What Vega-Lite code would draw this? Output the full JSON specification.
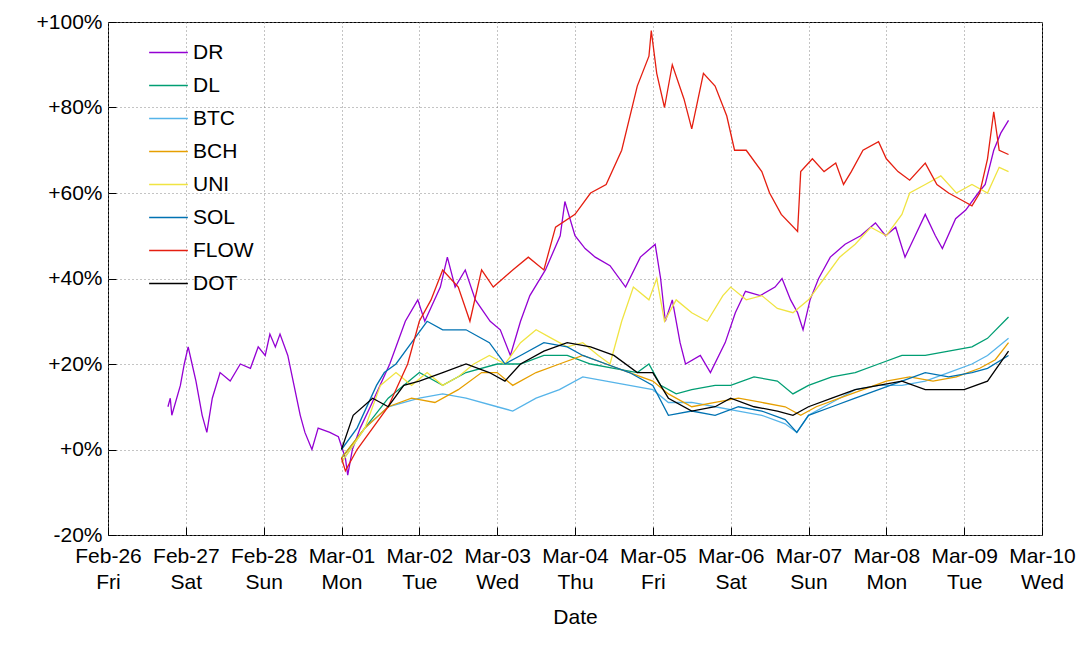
{
  "$schema": "https://vega.github.io/schema/vega-lite/v6.json",
  "width": 934,
  "height": 513,
  "autosize": "none",
  "padding": {"left": 108, "top": 22, "right": 46, "bottom": 113},
  "background": "white",
  "config": {"font": "Liberation Sans", "view": {"stroke": "black", "strokeWidth": 1}},
  "data": {"values": [
    {"s":"DR","d":0.77,"v":10},{"s":"DR","d":0.8,"v":12},{"s":"DR","d":0.82,"v":8},{"s":"DR","d":0.93,"v":15},{"s":"DR","d":0.98,"v":20},{"s":"DR","d":1.03,"v":24},{"s":"DR","d":1.08,"v":20},{"s":"DR","d":1.13,"v":16},{"s":"DR","d":1.21,"v":8},{"s":"DR","d":1.27,"v":4},{"s":"DR","d":1.34,"v":12},{"s":"DR","d":1.44,"v":18},{"s":"DR","d":1.57,"v":16},{"s":"DR","d":1.7,"v":20},{"s":"DR","d":1.83,"v":19},{"s":"DR","d":1.93,"v":24},{"s":"DR","d":2.02,"v":22},{"s":"DR","d":2.08,"v":27},{"s":"DR","d":2.15,"v":24},{"s":"DR","d":2.21,"v":27},{"s":"DR","d":2.31,"v":22},{"s":"DR","d":2.39,"v":15},{"s":"DR","d":2.47,"v":8},{"s":"DR","d":2.53,"v":4},{"s":"DR","d":2.62,"v":0},{"s":"DR","d":2.7,"v":5},{"s":"DR","d":2.85,"v":4},{"s":"DR","d":2.96,"v":3},{"s":"DR","d":3.05,"v":-2},{"s":"DR","d":3.08,"v":-6},{"s":"DR","d":3.14,"v":0},{"s":"DR","d":3.24,"v":5},{"s":"DR","d":3.37,"v":10},{"s":"DR","d":3.62,"v":20},{"s":"DR","d":3.82,"v":30},{"s":"DR","d":3.98,"v":35},{"s":"DR","d":4.07,"v":30},{"s":"DR","d":4.27,"v":38},{"s":"DR","d":4.36,"v":45},{"s":"DR","d":4.46,"v":38},{"s":"DR","d":4.59,"v":42},{"s":"DR","d":4.72,"v":35},{"s":"DR","d":4.91,"v":30},{"s":"DR","d":5.04,"v":28},{"s":"DR","d":5.17,"v":22},{"s":"DR","d":5.3,"v":30},{"s":"DR","d":5.42,"v":36},{"s":"DR","d":5.62,"v":42},{"s":"DR","d":5.81,"v":50},{"s":"DR","d":5.87,"v":58},{"s":"DR","d":6.0,"v":50},{"s":"DR","d":6.13,"v":47},{"s":"DR","d":6.26,"v":45},{"s":"DR","d":6.45,"v":43},{"s":"DR","d":6.65,"v":38},{"s":"DR","d":6.84,"v":45},{"s":"DR","d":7.03,"v":48},{"s":"DR","d":7.1,"v":40},{"s":"DR","d":7.16,"v":30},{"s":"DR","d":7.25,"v":35},{"s":"DR","d":7.35,"v":25},{"s":"DR","d":7.42,"v":20},{"s":"DR","d":7.61,"v":22},{"s":"DR","d":7.74,"v":18},{"s":"DR","d":7.93,"v":25},{"s":"DR","d":8.06,"v":32},{"s":"DR","d":8.19,"v":37},{"s":"DR","d":8.38,"v":36},{"s":"DR","d":8.57,"v":38},{"s":"DR","d":8.66,"v":40},{"s":"DR","d":8.77,"v":35},{"s":"DR","d":8.86,"v":32},{"s":"DR","d":8.93,"v":28},{"s":"DR","d":9.02,"v":35},{"s":"DR","d":9.13,"v":40},{"s":"DR","d":9.28,"v":45},{"s":"DR","d":9.47,"v":48},{"s":"DR","d":9.67,"v":50},{"s":"DR","d":9.86,"v":53},{"s":"DR","d":9.99,"v":50},{"s":"DR","d":10.12,"v":52},{"s":"DR","d":10.24,"v":45},{"s":"DR","d":10.37,"v":50},{"s":"DR","d":10.5,"v":55},{"s":"DR","d":10.63,"v":50},{"s":"DR","d":10.72,"v":47},{"s":"DR","d":10.89,"v":54},{"s":"DR","d":11.02,"v":56},{"s":"DR","d":11.18,"v":60},{"s":"DR","d":11.27,"v":62},{"s":"DR","d":11.38,"v":70},{"s":"DR","d":11.47,"v":74},{"s":"DR","d":11.57,"v":77},

    {"s":"DL","d":3.0,"v":-2},{"s":"DL","d":3.3,"v":5},{"s":"DL","d":3.6,"v":12},{"s":"DL","d":4.0,"v":18},{"s":"DL","d":4.3,"v":15},{"s":"DL","d":4.6,"v":18},{"s":"DL","d":5.0,"v":20},{"s":"DL","d":5.3,"v":20},{"s":"DL","d":5.6,"v":22},{"s":"DL","d":5.9,"v":22},{"s":"DL","d":6.2,"v":20},{"s":"DL","d":6.5,"v":19},{"s":"DL","d":6.8,"v":18},{"s":"DL","d":6.95,"v":20},{"s":"DL","d":7.1,"v":15},{"s":"DL","d":7.3,"v":13},{"s":"DL","d":7.5,"v":14},{"s":"DL","d":7.8,"v":15},{"s":"DL","d":8.0,"v":15},{"s":"DL","d":8.3,"v":17},{"s":"DL","d":8.6,"v":16},{"s":"DL","d":8.8,"v":13},{"s":"DL","d":9.0,"v":15},{"s":"DL","d":9.3,"v":17},{"s":"DL","d":9.6,"v":18},{"s":"DL","d":9.9,"v":20},{"s":"DL","d":10.2,"v":22},{"s":"DL","d":10.5,"v":22},{"s":"DL","d":10.8,"v":23},{"s":"DL","d":11.1,"v":24},{"s":"DL","d":11.3,"v":26},{"s":"DL","d":11.57,"v":31},

    {"s":"BTC","d":3.0,"v":-3},{"s":"BTC","d":3.3,"v":5},{"s":"BTC","d":3.6,"v":10},{"s":"BTC","d":4.0,"v":12},{"s":"BTC","d":4.3,"v":13},{"s":"BTC","d":4.6,"v":12},{"s":"BTC","d":5.0,"v":10},{"s":"BTC","d":5.2,"v":9},{"s":"BTC","d":5.5,"v":12},{"s":"BTC","d":5.8,"v":14},{"s":"BTC","d":6.1,"v":17},{"s":"BTC","d":6.4,"v":16},{"s":"BTC","d":6.7,"v":15},{"s":"BTC","d":7.0,"v":14},{"s":"BTC","d":7.2,"v":11},{"s":"BTC","d":7.5,"v":11},{"s":"BTC","d":7.8,"v":10},{"s":"BTC","d":8.1,"v":9},{"s":"BTC","d":8.4,"v":8},{"s":"BTC","d":8.7,"v":6},{"s":"BTC","d":8.85,"v":4},{"s":"BTC","d":9.0,"v":8},{"s":"BTC","d":9.3,"v":11},{"s":"BTC","d":9.6,"v":14},{"s":"BTC","d":9.9,"v":15},{"s":"BTC","d":10.2,"v":15},{"s":"BTC","d":10.5,"v":16},{"s":"BTC","d":10.8,"v":18},{"s":"BTC","d":11.1,"v":20},{"s":"BTC","d":11.3,"v":22},{"s":"BTC","d":11.57,"v":26},

    {"s":"BCH","d":3.0,"v":-2},{"s":"BCH","d":3.3,"v":5},{"s":"BCH","d":3.6,"v":10},{"s":"BCH","d":3.9,"v":12},{"s":"BCH","d":4.2,"v":11},{"s":"BCH","d":4.5,"v":14},{"s":"BCH","d":4.8,"v":18},{"s":"BCH","d":5.0,"v":18},{"s":"BCH","d":5.2,"v":15},{"s":"BCH","d":5.5,"v":18},{"s":"BCH","d":5.8,"v":20},{"s":"BCH","d":6.1,"v":22},{"s":"BCH","d":6.4,"v":20},{"s":"BCH","d":6.7,"v":18},{"s":"BCH","d":7.0,"v":16},{"s":"BCH","d":7.2,"v":13},{"s":"BCH","d":7.5,"v":10},{"s":"BCH","d":7.8,"v":11},{"s":"BCH","d":8.1,"v":12},{"s":"BCH","d":8.4,"v":11},{"s":"BCH","d":8.7,"v":10},{"s":"BCH","d":8.9,"v":8},{"s":"BCH","d":9.1,"v":10},{"s":"BCH","d":9.4,"v":12},{"s":"BCH","d":9.7,"v":14},{"s":"BCH","d":10.0,"v":16},{"s":"BCH","d":10.3,"v":17},{"s":"BCH","d":10.6,"v":16},{"s":"BCH","d":10.9,"v":17},{"s":"BCH","d":11.2,"v":19},{"s":"BCH","d":11.4,"v":21},{"s":"BCH","d":11.57,"v":25},

    {"s":"UNI","d":3.0,"v":-3},{"s":"UNI","d":3.3,"v":5},{"s":"UNI","d":3.5,"v":15},{"s":"UNI","d":3.7,"v":18},{"s":"UNI","d":3.9,"v":15},{"s":"UNI","d":4.1,"v":18},{"s":"UNI","d":4.3,"v":15},{"s":"UNI","d":4.5,"v":17},{"s":"UNI","d":4.7,"v":20},{"s":"UNI","d":4.9,"v":22},{"s":"UNI","d":5.1,"v":20},{"s":"UNI","d":5.3,"v":25},{"s":"UNI","d":5.5,"v":28},{"s":"UNI","d":5.7,"v":26},{"s":"UNI","d":5.9,"v":24},{"s":"UNI","d":6.1,"v":25},{"s":"UNI","d":6.3,"v":22},{"s":"UNI","d":6.45,"v":20},{"s":"UNI","d":6.6,"v":30},{"s":"UNI","d":6.75,"v":38},{"s":"UNI","d":6.95,"v":35},{"s":"UNI","d":7.05,"v":40},{"s":"UNI","d":7.15,"v":30},{"s":"UNI","d":7.3,"v":35},{"s":"UNI","d":7.5,"v":32},{"s":"UNI","d":7.7,"v":30},{"s":"UNI","d":7.9,"v":36},{"s":"UNI","d":8.0,"v":38},{"s":"UNI","d":8.2,"v":35},{"s":"UNI","d":8.4,"v":36},{"s":"UNI","d":8.6,"v":33},{"s":"UNI","d":8.8,"v":32},{"s":"UNI","d":9.0,"v":35},{"s":"UNI","d":9.2,"v":40},{"s":"UNI","d":9.4,"v":45},{"s":"UNI","d":9.6,"v":48},{"s":"UNI","d":9.8,"v":52},{"s":"UNI","d":10.0,"v":50},{"s":"UNI","d":10.2,"v":55},{"s":"UNI","d":10.3,"v":60},{"s":"UNI","d":10.5,"v":62},{"s":"UNI","d":10.7,"v":64},{"s":"UNI","d":10.9,"v":60},{"s":"UNI","d":11.1,"v":62},{"s":"UNI","d":11.3,"v":60},{"s":"UNI","d":11.45,"v":66},{"s":"UNI","d":11.57,"v":65},

    {"s":"SOL","d":3.0,"v":0},{"s":"SOL","d":3.2,"v":5},{"s":"SOL","d":3.45,"v":15},{"s":"SOL","d":3.55,"v":18},{"s":"SOL","d":3.7,"v":20},{"s":"SOL","d":3.9,"v":25},{"s":"SOL","d":4.1,"v":30},{"s":"SOL","d":4.3,"v":28},{"s":"SOL","d":4.6,"v":28},{"s":"SOL","d":4.9,"v":25},{"s":"SOL","d":5.1,"v":20},{"s":"SOL","d":5.3,"v":22},{"s":"SOL","d":5.6,"v":25},{"s":"SOL","d":5.9,"v":24},{"s":"SOL","d":6.1,"v":22},{"s":"SOL","d":6.4,"v":20},{"s":"SOL","d":6.7,"v":18},{"s":"SOL","d":7.0,"v":15},{"s":"SOL","d":7.2,"v":8},{"s":"SOL","d":7.5,"v":9},{"s":"SOL","d":7.8,"v":8},{"s":"SOL","d":8.1,"v":10},{"s":"SOL","d":8.4,"v":9},{"s":"SOL","d":8.7,"v":7},{"s":"SOL","d":8.85,"v":4},{"s":"SOL","d":9.0,"v":8},{"s":"SOL","d":9.3,"v":10},{"s":"SOL","d":9.6,"v":12},{"s":"SOL","d":9.9,"v":14},{"s":"SOL","d":10.2,"v":16},{"s":"SOL","d":10.5,"v":18},{"s":"SOL","d":10.8,"v":17},{"s":"SOL","d":11.1,"v":18},{"s":"SOL","d":11.3,"v":19},{"s":"SOL","d":11.57,"v":22},

    {"s":"FLOW","d":3.0,"v":-2},{"s":"FLOW","d":3.05,"v":-5},{"s":"FLOW","d":3.2,"v":0},{"s":"FLOW","d":3.4,"v":5},{"s":"FLOW","d":3.6,"v":10},{"s":"FLOW","d":3.85,"v":20},{"s":"FLOW","d":4.0,"v":30},{"s":"FLOW","d":4.15,"v":35},{"s":"FLOW","d":4.3,"v":42},{"s":"FLOW","d":4.5,"v":38},{"s":"FLOW","d":4.65,"v":30},{"s":"FLOW","d":4.8,"v":42},{"s":"FLOW","d":4.95,"v":38},{"s":"FLOW","d":5.2,"v":42},{"s":"FLOW","d":5.4,"v":45},{"s":"FLOW","d":5.6,"v":42},{"s":"FLOW","d":5.75,"v":52},{"s":"FLOW","d":6.0,"v":55},{"s":"FLOW","d":6.2,"v":60},{"s":"FLOW","d":6.4,"v":62},{"s":"FLOW","d":6.6,"v":70},{"s":"FLOW","d":6.8,"v":85},{"s":"FLOW","d":6.95,"v":92},{"s":"FLOW","d":6.98,"v":98},{"s":"FLOW","d":7.05,"v":88},{"s":"FLOW","d":7.15,"v":80},{"s":"FLOW","d":7.25,"v":90},{"s":"FLOW","d":7.4,"v":82},{"s":"FLOW","d":7.5,"v":75},{"s":"FLOW","d":7.65,"v":88},{"s":"FLOW","d":7.8,"v":85},{"s":"FLOW","d":7.95,"v":78},{"s":"FLOW","d":8.05,"v":70},{"s":"FLOW","d":8.2,"v":70},{"s":"FLOW","d":8.4,"v":65},{"s":"FLOW","d":8.5,"v":60},{"s":"FLOW","d":8.65,"v":55},{"s":"FLOW","d":8.86,"v":51},{"s":"FLOW","d":8.9,"v":65},{"s":"FLOW","d":9.05,"v":68},{"s":"FLOW","d":9.2,"v":65},{"s":"FLOW","d":9.35,"v":67},{"s":"FLOW","d":9.45,"v":62},{"s":"FLOW","d":9.55,"v":65},{"s":"FLOW","d":9.7,"v":70},{"s":"FLOW","d":9.9,"v":72},{"s":"FLOW","d":10.0,"v":68},{"s":"FLOW","d":10.15,"v":65},{"s":"FLOW","d":10.3,"v":63},{"s":"FLOW","d":10.5,"v":67},{"s":"FLOW","d":10.65,"v":62},{"s":"FLOW","d":10.8,"v":60},{"s":"FLOW","d":11.0,"v":58},{"s":"FLOW","d":11.1,"v":57},{"s":"FLOW","d":11.2,"v":60},{"s":"FLOW","d":11.3,"v":68},{"s":"FLOW","d":11.38,"v":79},{"s":"FLOW","d":11.45,"v":70},{"s":"FLOW","d":11.57,"v":69},

    {"s":"DOT","d":3.0,"v":0},{"s":"DOT","d":3.15,"v":8},{"s":"DOT","d":3.4,"v":12},{"s":"DOT","d":3.6,"v":10},{"s":"DOT","d":3.8,"v":15},{"s":"DOT","d":4.0,"v":16},{"s":"DOT","d":4.3,"v":18},{"s":"DOT","d":4.6,"v":20},{"s":"DOT","d":4.9,"v":18},{"s":"DOT","d":5.1,"v":16},{"s":"DOT","d":5.3,"v":20},{"s":"DOT","d":5.6,"v":23},{"s":"DOT","d":5.9,"v":25},{"s":"DOT","d":6.2,"v":24},{"s":"DOT","d":6.5,"v":22},{"s":"DOT","d":6.8,"v":18},{"s":"DOT","d":7.0,"v":18},{"s":"DOT","d":7.2,"v":12},{"s":"DOT","d":7.5,"v":9},{"s":"DOT","d":7.8,"v":10},{"s":"DOT","d":8.0,"v":12},{"s":"DOT","d":8.3,"v":10},{"s":"DOT","d":8.6,"v":9},{"s":"DOT","d":8.8,"v":8},{"s":"DOT","d":9.0,"v":10},{"s":"DOT","d":9.3,"v":12},{"s":"DOT","d":9.6,"v":14},{"s":"DOT","d":9.9,"v":15},{"s":"DOT","d":10.2,"v":16},{"s":"DOT","d":10.5,"v":14},{"s":"DOT","d":10.8,"v":14},{"s":"DOT","d":11.0,"v":14},{"s":"DOT","d":11.3,"v":16},{"s":"DOT","d":11.57,"v":23}
  ]},
  "mark": {"type": "line", "strokeWidth": 1.3},
  "encoding": {
    "x": {
      "field": "d", "type": "quantitative",
      "scale": {"domain": [0, 12], "nice": false, "zero": false},
      "axis": {
        "title": "Date", "titleFontSize": 21, "titleFontWeight": "normal", "titlePadding": 14,
        "values": [0,1,2,3,4,5,6,7,8,9,10,11,12],
        "labelExpr": "[['Feb-26','Feb-27','Feb-28','Mar-01','Mar-02','Mar-03','Mar-04','Mar-05','Mar-06','Mar-07','Mar-08','Mar-09','Mar-10'][datum.value], ['Fri','Sat','Sun','Mon','Tue','Wed','Thu','Fri','Sat','Sun','Mon','Tue','Wed'][datum.value]]",
        "labelFontSize": 21, "labelColor": "black", "labelLineHeight": 26,
        "labelOverlap": false, "labelFlush": false, "labelBound": false, "labelAlign": "center",
        "grid": true, "gridDash": [1, 3], "gridColor": "#888",
        "domain": false, "tickColor": "black", "tickSize": -8, "labelPadding": 18
      }
    },
    "y": {
      "field": "v", "type": "quantitative",
      "scale": {"domain": [-20, 100], "nice": false},
      "axis": {
        "title": null, "values": [-20,0,20,40,60,80,100],
        "labelExpr": "(datum.value >= 0 ? '+' : '') + datum.value + '%'",
        "labelFontSize": 21, "labelColor": "black",
        "labelOverlap": false, "labelFlush": false, "labelBound": false,
        "grid": true, "gridDash": [1, 3], "gridColor": "#888",
        "domain": false, "tickColor": "black", "tickSize": -8, "labelPadding": 14
      }
    },
    "color": {
      "field": "s", "type": "nominal",
      "scale": {
        "domain": ["DR","DL","BTC","BCH","UNI","SOL","FLOW","DOT"],
        "range": ["#9400d3","#009e73","#56b4e9","#e69f00","#f0e442","#0072b2","#e51e10","#000000"]
      },
      "legend": {
        "title": null, "orient": "none", "legendX": 40, "legendY": 10,
        "symbolType": "stroke", "symbolSize": 1500, "symbolStrokeWidth": 1.5,
        "labelFontSize": 21, "labelColor": "black", "rowPadding": 2
      }
    },
    "order": {"field": "d", "type": "quantitative"}
  }
}
